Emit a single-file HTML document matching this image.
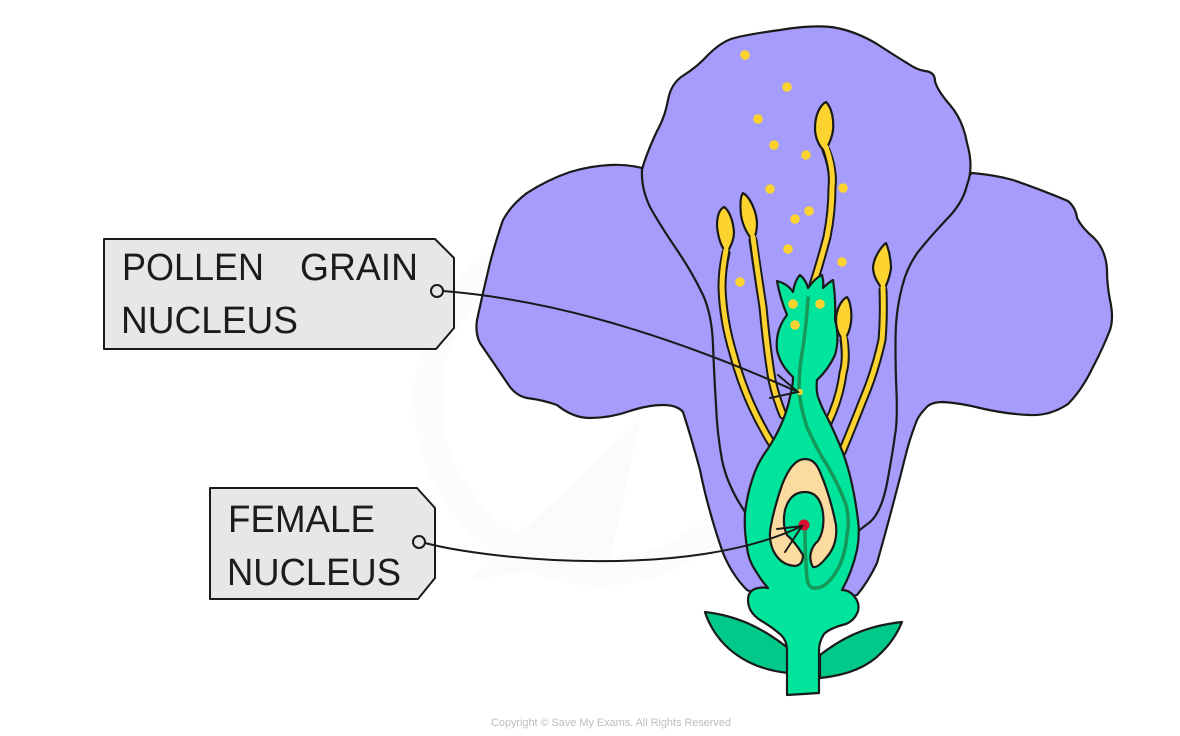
<!DOCTYPE html>
<html><head><meta charset="utf-8"><style>
html,body{margin:0;padding:0;background:#fff}
svg{display:block}
text{font-family:"Liberation Sans",sans-serif;fill:#1c1c1c}
</style></head><body>
<svg width="1180" height="736" viewBox="0 0 1180 736" xmlns="http://www.w3.org/2000/svg">
<rect width="1180" height="736" fill="#fff"/>
<circle cx="600" cy="400" r="172" fill="none" stroke="#fafcfd" stroke-width="28"/>
<path d="M470 580L640 420L610 560Z" fill="#fafbfb"/>
<g stroke="#1a1a1a" stroke-width="2.2" stroke-linejoin="round" stroke-linecap="round" fill="#a59cfb">
<!-- side petals -->
<path d="M642 168Q626 164 610 165Q590 166 570 172Q547 180 527 193Q511 205 503 220Q496 240 490 263Q483 292 477 320Q475 333 480 343Q495 365 510 387Q517 396 527 398Q543 400 557 405Q573 418 590 418Q610 418 630 411Q648 405 663 405Q677 405 683 412Q692 440 700 470Q708 510 723 553Q732 575 747 590L770 600L770 300Z"/>
<path d="M972 173Q995 175 1013 180Q1042 190 1068 201Q1076 208 1077 218Q1082 228 1094 238Q1106 250 1107 270Q1107 285 1110 300Q1114 318 1110 330Q1103 348 1093 367Q1082 390 1068 404Q1050 416 1030 415Q1005 414 980 408Q960 403 943 402Q930 402 925 409Q920 414 917 420Q911 435 907 450Q892 510 877 563Q868 582 857 595L840 600L840 300Z"/>
<!-- top petal -->
<path d="M745 512Q727 485 722 460Q717 432 716 405Q714 372 713 345Q712 315 703 295Q692 272 677 250Q660 225 650 207Q641 188 642 170Q645 157 657 131Q665 117 668 100Q671 83 684 75Q697 67 708 55Q720 43 731 39Q743 35 780 30Q817 24 837 28Q857 32 877 44Q897 57 907 63Q917 70 925 71Q935 72 935 81Q937 90 950 105Q963 120 967 143Q974 167 967 185Q963 203 946 220Q930 237 918 252Q907 267 902 287Q897 307 896 325Q895 343 896 380Q898 420 895 435Q893 450 888 478Q882 512 870 522L857 532L800 540Z"/>
</g>
<!-- stamens -->
<g fill="none" stroke-linecap="round" stroke-linejoin="round">
<g stroke="#1a1a1a" stroke-width="9">
<path d="M826 150Q834 170 832 187Q832 212 827 237Q821 260 813 285"/>
<path d="M726 253Q722 270 722 287Q723 320 733 353Q745 400 772 444"/>
<path d="M753 240Q758 275 763 307Q767 350 772 380Q776 398 783 415"/>
<path d="M844 340Q847 360 843 373Q840 398 828 423"/>
<path d="M883 290Q884 318 882 340Q875 372 863 400Q852 428 842 452"/>
</g>
</g>
<g fill="#fdd32f" stroke="#1a1a1a" stroke-width="2.2" stroke-linejoin="round">
<path d="M826 102C832 108 834 120 833 130C832 140 827 147 825 152C820 147 815 140 815 128C815 115 820 105 826 102Z"/>
<path d="M724 207C729 210 733 220 734 232C734 242 729 248 727 254C722 248 718 238 717 226C717 215 720 209 724 207Z"/>
<path d="M743 193C750 197 757 212 757 224C757 232 755 237 753 241C749 236 743 228 741 215C740 205 740 197 743 193Z"/>
<path d="M847 297C851 302 852 315 851 322C850 332 846 337 844 341C840 337 836 330 836 320C836 310 841 300 847 297Z"/>
<path d="M886 243C889 250 891 260 891 268C890 278 886 285 884 291C879 285 873 277 873 267C874 257 881 247 886 243Z"/>
</g>
<g fill="none" stroke-linecap="round" stroke-linejoin="round" stroke="#fdd32f" stroke-width="5">
<path d="M826 147Q834 170 832 187Q832 212 827 237Q821 260 813 285"/>
<path d="M726 250Q722 270 722 287Q723 320 733 353Q745 400 772 444"/>
<path d="M753 237Q758 275 763 307Q767 350 772 380Q776 398 783 415"/>
<path d="M844 337Q847 360 843 373Q840 398 828 423"/>
<path d="M883 287Q884 318 882 340Q875 372 863 400Q852 428 842 452"/>
</g>
<!-- leaves -->
<g fill="#00c98a" stroke="#1a1a1a" stroke-width="2.2" stroke-linejoin="round">
<path d="M705 612C740 616 765 630 788 648L788 673C760 670 740 660 725 645C715 635 708 622 705 612Z"/>
<path d="M902 622C865 626 842 638 820 655L820 678C850 675 870 665 882 652C892 642 898 632 902 622Z"/>
</g>
<!-- pistil -->
<path fill="#00e59b" stroke="#1a1a1a" stroke-width="2.2" stroke-linejoin="round" d="M787 695L787 650Q787 641 781 635Q772 627 760 620Q748 612 748 600Q748 590 758 588Q764 587 768 588Q761 580 757 573Q748 560 747 547Q744 530 745 513Q747 495 753 477Q758 462 767 450Q775 438 780 427Q787 412 790 397Q793 385 793 377Q780 365 777 350Q775 330 787 315Q780 298 777 281Q788 284 793 292Q795 280 800 275Q806 280 808 288Q815 278 822 275Q824 282 823 288Q828 283 833 280Q836 300 835 320Q840 338 835 355Q828 370 817 380Q816 390 818 397Q822 408 827 417Q836 435 843 453Q853 480 858 520Q860 535 857 550Q852 572 842 590Q849 590 854 596Q860 603 858 611Q855 620 846 624Q830 628 824 634Q819 642 819 650L819 693Z"/>
<!-- ovule -->
<path fill="#fcdba0" stroke="#1a1a1a" stroke-width="2.2" stroke-linejoin="round" d="M805 459Q815 459 820 472Q830 495 836 525Q838 545 826 558Q818 568 813 567Q809 560 811 552Q813 545 818 541Q825 530 823 513Q820 492 805 492Q790 492 785 510Q782 525 787 535Q795 542 803 555Q803 565 795 566Q780 565 773 550Q768 538 771 525Q775 505 782 485Q792 459 805 459Z"/>
<!-- pollen tube -->
<path fill="none" stroke="#15985a" stroke-width="3.5" stroke-linecap="round" d="M808 298Q806 330 802 353Q799 372 799 390Q801 410 807 427Q815 445 822 457Q838 482 846 505Q850 520 847 535Q845 558 836 572Q826 588 816 588Q808 589 807 578Q805 555 805 530"/>
<!-- dots -->
<g fill="#fdd32f">
<circle cx="745" cy="55" r="4.8"/><circle cx="787" cy="87" r="4.8"/><circle cx="758" cy="119" r="4.8"/><circle cx="774" cy="145" r="4.8"/><circle cx="806" cy="155" r="4.8"/><circle cx="843" cy="188" r="4.8"/><circle cx="770" cy="189" r="4.8"/><circle cx="809" cy="211" r="4.8"/><circle cx="795" cy="219" r="4.8"/><circle cx="788" cy="249" r="4.8"/><circle cx="842" cy="262" r="4.8"/><circle cx="740" cy="282" r="4.8"/><circle cx="793" cy="304" r="4.8"/><circle cx="820" cy="304" r="4.8"/><circle cx="795" cy="325" r="4.8"/>
<circle cx="800" cy="392" r="3"/>
</g>
<circle cx="804" cy="525" r="5.5" fill="#d4102e"/>
<!-- labels -->
<g fill="#e6e7e8" stroke="#1a1a1a" stroke-width="2" stroke-linejoin="round">
<path d="M104 239L435 239L454 258L454 328L436 349L104 349Z"/>
<path d="M210 488L417 488L435 508L435 578L418 599L210 599Z"/>
</g>
<g fill="none" stroke="#1a1a1a" stroke-width="2" stroke-linecap="round">
<circle cx="437" cy="291" r="6"/>
<circle cx="419" cy="542" r="6"/>
<path d="M443 291C530 298 640 322 798 392"/>
<path d="M778 375L798 392L770 398"/>
<path d="M425 543C490 560 690 580 802 526"/>
<path d="M777 529L802 526L785 552"/>
</g>
<g font-size="38">
<text x="122" y="280" textLength="142" lengthAdjust="spacingAndGlyphs">POLLEN</text>
<text x="300" y="280" textLength="118" lengthAdjust="spacingAndGlyphs">GRAIN</text>
<text x="121" y="333" textLength="177" lengthAdjust="spacingAndGlyphs">NUCLEUS</text>
<text x="228" y="532" textLength="147" lengthAdjust="spacingAndGlyphs">FEMALE</text>
<text x="227" y="585" textLength="174" lengthAdjust="spacingAndGlyphs">NUCLEUS</text>
</g>
<text x="491" y="726" font-size="11" textLength="240" style="fill:#bdbdbd">Copyright © Save My Exams. All Rights Reserved</text>
</svg>
</body></html>
